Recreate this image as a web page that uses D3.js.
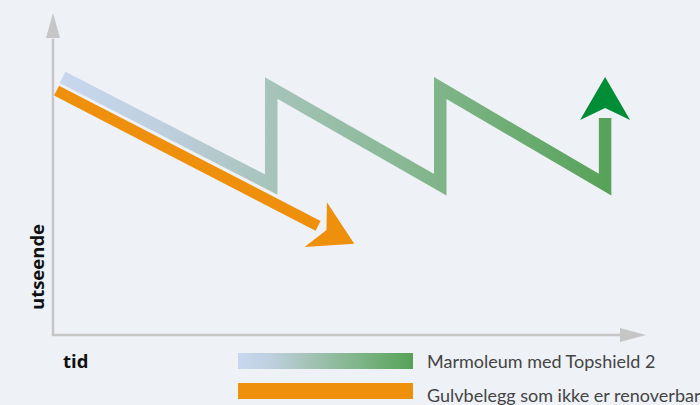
<!DOCTYPE html>
<html>
  <head>
    <meta charset="utf-8">
    <title>Utseende over tid</title>
    <script src="https://d3js.org/d3.v7.min.js"></script>
    <style>
      body { margin: 0; background: #eef1f6; }
      svg { display: block; }
      .axis-label { font-family: "Open Sans", sans-serif; font-weight: bold; font-size: 18.5px; fill: #111; }
      .legend text { font-family: Lato, "Open Sans", sans-serif; font-size: 18px; fill: #444; }
    </style>
  </head>
  <body>
    <svg width="700" height="405"></svg>

    <script>
      // schematic data: time (0-10) vs appearance (0-10)
      const marmoleumTime = [0.16, 3.68, 3.68, 6.53, 6.53, 9.31, 9.31];
      const marmoleumLook = [8.0, 4.67, 7.67, 4.67, 7.67, 4.67, 6.74];
      const marmoleumTip = [9.31, 8.01];

      const otherTime = [0.06, 4.47];
      const otherLook = [7.59, 3.39];
      const otherTip = [5.08, 2.83];

      const seriesNames = ["Marmoleum med Topshield 2", "Gulvbelegg som ikke er renoverbar"];
      const axisLabels = { x: "tid", y: "utseende" };

      const bg = "#eef1f6";
      const orange = "#ef900c";
      const gradStops = [
        [0, "#c8d7ef"], [0.18, "#bfd0e0"], [0.38, "#a7c4bb"],
        [0.68, "#80b58a"], [1, "#56a258"]
      ];

      function main(){
        const svg = d3.select("svg");
        const x = d3.scaleLinear().domain([0, 10]).range([53, 646]);
        const y = d3.scaleLinear().domain([0, 10]).range([335, 13]);

        const defs = svg.append("defs");
        function gradient(id, x1, x2){
          const g = defs.append("linearGradient").attr("id", id)
            .attr("gradientUnits", "userSpaceOnUse")
            .attr("x1", x1).attr("x2", x2).attr("y1", 0).attr("y2", 0);
          g.selectAll("stop").data(gradStops).join("stop")
            .attr("offset", d => d[0]).attr("stop-color", d => d[1]);
        }
        gradient("lineGrad", x(0.16) - 4, x(9.31) + 7);
        gradient("legendGrad", 0, 175);

        // axes
        const axisColor = "#c6c6c6";
        svg.append("path")
          .attr("d", `M${x(0)},${y(9.2)}V${y(0)}H${x(9.6)}`)
          .attr("fill", "none").attr("stroke", axisColor).attr("stroke-width", 2.5);
        svg.append("path")
          .attr("d", `M${x(0)},${y(10)}L${x(0) + 7},${y(10) + 25}L${x(0) - 7},${y(10) + 25}Z`)
          .attr("fill", axisColor);
        svg.append("path")
          .attr("d", `M${x(10)},${y(0)}L${x(10) - 26},${y(0) - 7}L${x(10) - 26},${y(0) + 7}Z`)
          .attr("fill", axisColor);

        const line = d3.line().x(d => x(d[0])).y(d => y(d[1]));

        function arrowHead(tip, angle, color){
          svg.append("path")
            .attr("d", "M0,0L-43,-25L-31,0L-43,25Z")
            .attr("transform", `translate(${x(tip[0])},${y(tip[1])}) rotate(${angle})`)
            .attr("fill", color);
        }

        // marmoleum zigzag
        svg.append("path")
          .datum(d3.zip(marmoleumTime, marmoleumLook))
          .attr("d", line)
          .attr("fill", "none")
          .attr("stroke", "url(#lineGrad)")
          .attr("stroke-width", 12.5)
          .attr("stroke-linejoin", "miter")
          .attr("stroke-miterlimit", 10);
        arrowHead(marmoleumTip, -90, "#008d36");

        // non-renewable floor
        const oPts = d3.zip(otherTime, otherLook);
        svg.append("path").datum(oPts).attr("d", line)
          .attr("fill", "none").attr("stroke", bg).attr("stroke-width", 14);
        svg.append("path").datum(oPts).attr("d", line)
          .attr("fill", "none").attr("stroke", orange).attr("stroke-width", 11);
        const ang = Math.atan2(y(otherTip[1]) - y(otherLook[1]), x(otherTip[0]) - x(otherTime[1])) * 180 / Math.PI;
        arrowHead(otherTip, ang, orange);

        // axis labels
        svg.append("text").attr("class", "axis-label")
          .attr("x", 63).attr("y", 368).text(axisLabels.x);
        svg.append("text").attr("class", "axis-label")
          .attr("transform", "translate(44,267) rotate(-90)")
          .attr("text-anchor", "middle").text(axisLabels.y);

        // legend
        const legend = svg.append("g").attr("class", "legend");
        const rows = legend.selectAll("g").data(seriesNames).join("g")
          .attr("transform", (d, i) => `translate(238, ${353 + i * 30})`);
        rows.append("rect")
          .attr("width", 175).attr("height", 16)
          .attr("fill", (d, i) => i === 0 ? "url(#legendGrad)" : orange);
        rows.append("text")
          .attr("x", 189).attr("y", (d, i) => 15 + i * 4)
          .text(d => d);
      }
      main();
    </script>
  </body>
</html>
